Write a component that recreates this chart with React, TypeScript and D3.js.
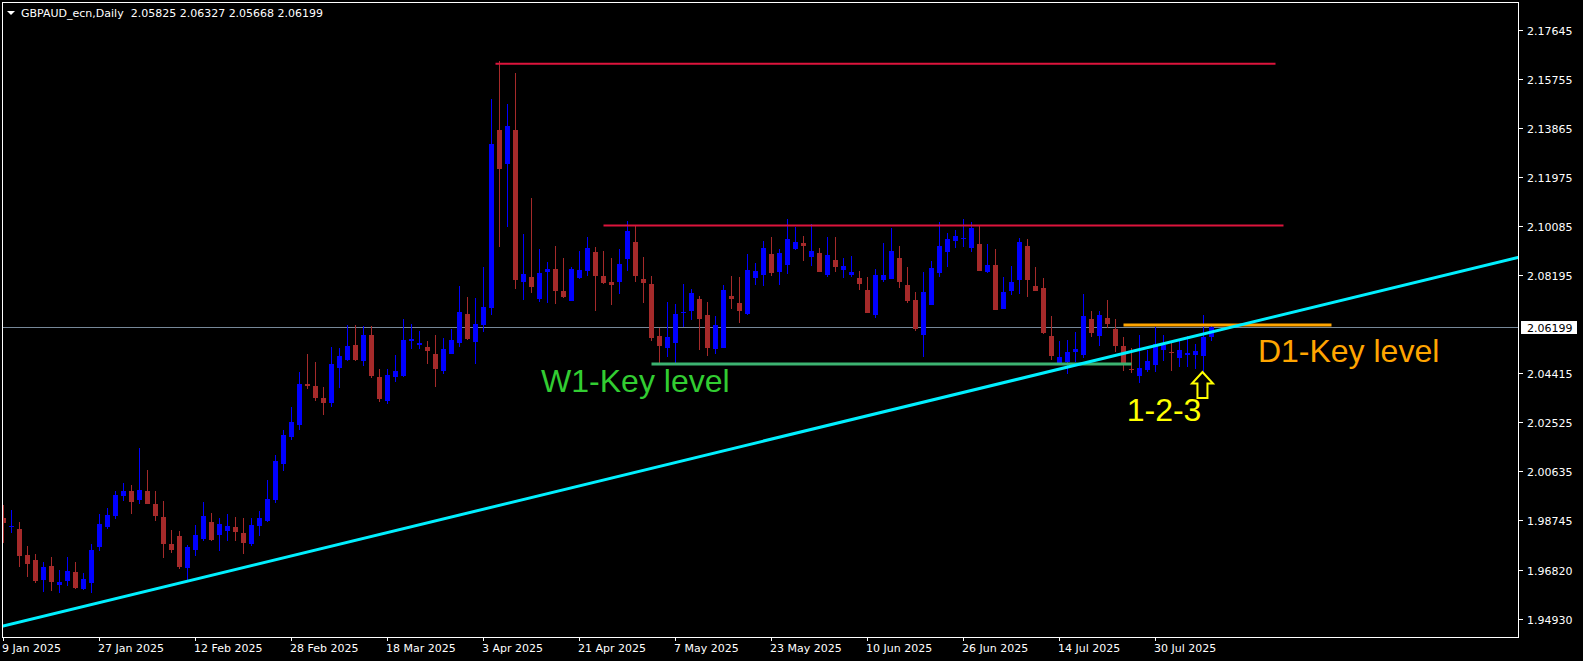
import React from 'react';
import * as d3 from 'd3';

// ---- data (daily GBPAUD bars, from 9 Jan 2025) ----
const symbolName = 'GBPAUD_ecn,Daily';
const firstDate = new Date(2025, 0, 9);

const opens = [
  1.98816, 1.98495, 1.98403, 1.97399, 1.97206, 1.96446, 1.96975, 1.96242, 1.96407, 1.96743,
  1.96088, 1.96319, 1.97708, 1.9848, 1.98916, 1.99688, 1.99869, 1.99534, 1.99869, 1.99368,
  1.98866, 1.97824, 1.98133, 1.96909, 1.97604, 1.98017, 1.98673, 1.98171, 1.98325, 1.9848,
  1.98248, 1.97835, 1.98518, 1.98711, 1.99522, 2.00921, 2.01952, 2.02415, 2.03998, 2.0392,
  2.03457, 2.03264, 2.04615, 2.04924, 2.05503, 2.04885, 2.05889, 2.04268, 2.03341, 2.04268,
  2.04306, 2.05657, 2.05503, 2.05426, 2.05156, 2.045, 2.05156, 2.0558, 2.06699, 2.05619,
  2.06275, 2.06942, 2.13798, 2.12498, 2.13798, 2.07944, 2.08126, 2.07289, 2.08329, 2.08435,
  2.07586, 2.07212, 2.081, 2.08369, 2.0909, 2.08164, 2.07933, 2.07944, 2.08821, 2.09476,
  2.08049, 2.07856, 2.0585, 2.05403, 2.0557, 2.06737, 2.06826, 2.07278, 2.0666, 2.05364,
  2.05403, 2.07393, 2.07123, 2.0671, 2.081, 2.08214, 2.09013, 2.08329, 2.08601, 2.09218,
  2.09438, 2.0891, 2.09052, 2.08214, 2.08782, 2.08408, 2.08214, 2.08087, 2.07624, 2.06672,
  2.08021, 2.08061, 2.08859, 2.07817, 2.07239, 2.05899, 2.07058, 2.08292, 2.09102, 2.09527,
  2.09604, 2.09257, 2.09399, 2.08331, 2.0859, 2.06903, 2.07597, 2.08021, 2.09322, 2.07779,
  2.07701, 2.0585, 2.04819, 2.04858, 2.05244, 2.05128, 2.06506, 2.05861, 2.06544, 2.06119,
  2.05464, 2.04577, 2.04318, 2.0455, 2.04743, 2.05322, 2.05244, 2.05012, 2.05128, 2.05128,
  2.0509, 2.05825,
];
const highs = [
  1.99329, 1.99136, 1.98673, 1.97746, 1.97438, 1.97141, 1.97322, 1.9682, 1.97322, 1.97129,
  1.96705, 1.97824, 1.98981, 1.99213, 1.99869, 2.00178, 2.00101, 2.01529, 2.0068, 1.99869,
  1.99483, 1.98364, 1.98325, 1.97785, 1.98557, 1.99445, 1.9902, 1.98827, 1.98981, 1.98866,
  1.98827, 1.98827, 1.99097, 2.00294, 2.01259, 2.02222, 2.0311, 2.04461, 2.05156, 2.04847,
  2.03882, 2.05426, 2.05387, 2.06275, 2.06275, 2.06236, 2.06236, 2.04577, 2.04577, 2.05117,
  2.06507, 2.06313, 2.06044, 2.05657, 2.05889, 2.05773, 2.06121, 2.07779, 2.07355, 2.07316,
  2.08512, 2.14994, 2.1646, 2.14801, 2.15997, 2.09785, 2.11174, 2.09206, 2.08705, 2.09322,
  2.08859, 2.08512, 2.09129, 2.09669, 2.09283, 2.09129, 2.08859, 2.09206, 2.10287, 2.10093,
  2.08898, 2.08164, 2.06167, 2.07162, 2.07084, 2.07856, 2.07663, 2.07393, 2.07162, 2.06622,
  2.07817, 2.08164, 2.08126, 2.09013, 2.08667, 2.09515, 2.09669, 2.09206, 2.10364, 2.10055,
  2.09708, 2.10171, 2.09245, 2.09669, 2.09669, 2.08859, 2.08936, 2.08358, 2.08126, 2.08435,
  2.09438, 2.10017, 2.09322, 2.08512, 2.07547, 2.0832, 2.08744, 2.10248, 2.09824, 2.0994,
  2.10364, 2.10248, 2.10093, 2.09399, 2.09206, 2.08126, 2.08562, 2.0963, 2.09592, 2.08512,
  2.08087, 2.06622, 2.05657, 2.05696, 2.06005, 2.0747, 2.06815, 2.06815, 2.07239, 2.06506,
  2.05812, 2.05387, 2.05889, 2.0531, 2.06198, 2.05889, 2.05657, 2.05657, 2.0585, 2.05541,
  2.0666, 2.06327,
];
const lows = [
  1.97874, 1.98237, 1.96947, 1.96562, 1.96307, 1.95985, 1.96024, 1.95923, 1.96215, 1.96099,
  1.96061, 1.95923, 1.97565, 1.98403, 1.98789, 1.99483, 1.98993, 1.99379, 1.99356, 1.98728,
  1.97295, 1.97488, 1.96871, 1.96446, 1.97372, 1.97951, 1.97951, 1.97565, 1.97939, 1.97939,
  1.97438, 1.97758, 1.98133, 1.98673, 1.99418, 2.00651, 2.01836, 2.02222, 2.03804, 2.03353,
  2.02801, 2.0311, 2.03843, 2.049, 2.049, 2.04692, 2.04229, 2.03303, 2.03226, 2.04075,
  2.04279, 2.05349, 2.05349, 2.0477, 2.03882, 2.04384, 2.0514, 2.05426, 2.05696, 2.0477,
  2.06015, 2.0666, 2.09295, 2.10066, 2.07674, 2.0725, 2.07519, 2.07173, 2.07135, 2.07096,
  2.07328, 2.072, 2.08061, 2.08176, 2.06826, 2.07866, 2.07058, 2.07481, 2.0837, 2.07944,
  2.07135, 2.05669, 2.04819, 2.05051, 2.04819, 2.06208, 2.06478, 2.05322, 2.0509, 2.05171,
  2.0538, 2.06903, 2.06363, 2.06672, 2.07828, 2.0779, 2.08176, 2.07828, 2.08253, 2.0918,
  2.08756, 2.08562, 2.0832, 2.08137, 2.0832, 2.081, 2.08137, 2.07635, 2.0673, 2.06556,
  2.07944, 2.0804, 2.07713, 2.07135, 2.06054, 2.05051, 2.0704, 2.08137, 2.08524, 2.09257,
  2.09295, 2.09103, 2.0835, 2.08292, 2.0684, 2.0688, 2.07444, 2.07481, 2.07366, 2.0758,
  2.05938, 2.04935, 2.0477, 2.04395, 2.04858, 2.05001, 2.05823, 2.05476, 2.06167, 2.05232,
  2.04518, 2.04411, 2.04048, 2.04473, 2.04473, 2.04896, 2.0451, 2.04665, 2.04665, 2.04588,
  2.04473, 2.05668,
];
const closes = [
  1.98646, 1.98518, 1.97372, 1.97063, 1.96407, 1.96936, 1.96369, 1.96358, 1.96782, 1.96126,
  1.96474, 1.97592, 1.98595, 1.98943, 1.99715, 1.99869, 1.99456, 1.99908, 1.99379, 1.98916,
  1.97835, 1.97604, 1.96936, 1.97708, 1.98171, 1.98904, 1.97978, 1.98595, 1.98518, 1.98287,
  1.97862, 1.98557, 1.98827, 1.99561, 2.01027, 2.02029, 2.02531, 2.03998, 2.0392, 2.03457,
  2.03264, 2.0477, 2.05078, 2.05465, 2.04924, 2.05889, 2.04306, 2.03419, 2.04345, 2.045,
  2.05696, 2.05735, 2.0558, 2.05272, 2.04577, 2.05349, 2.05696, 2.06776, 2.05735, 2.06313,
  2.06969, 2.13258, 2.12293, 2.13952, 2.08021, 2.08241, 2.07751, 2.0828, 2.08435, 2.07597,
  2.07366, 2.08435, 2.08397, 2.09245, 2.08176, 2.07905, 2.07828, 2.08628, 2.09901, 2.08176,
  2.07905, 2.05785, 2.05476, 2.05812, 2.06699, 2.06776, 2.07509, 2.06517, 2.05403, 2.06275,
  2.07624, 2.07289, 2.06826, 2.08397, 2.08358, 2.09245, 2.08292, 2.09052, 2.09592, 2.09476,
  2.09334, 2.09129, 2.08331, 2.08975, 2.08524, 2.08551, 2.08319, 2.07867, 2.06749, 2.08203,
  2.08203, 2.09129, 2.07944, 2.07212, 2.06131, 2.07547, 2.08474, 2.09322, 2.09592, 2.09708,
  2.09631, 2.10017, 2.0837, 2.0859, 2.06865, 2.07547, 2.07933, 2.09476, 2.08021, 2.07597,
  2.05977, 2.0509, 2.05028, 2.05232, 2.05349, 2.06622, 2.05977, 2.0666, 2.06324, 2.05476,
  2.04808, 2.0455, 2.04615, 2.04885, 2.05541, 2.05503, 2.05221, 2.0531, 2.05194, 2.05272,
  2.05823, 2.06199,
];

const priceTicks = [2.17645, 2.15755, 2.13865, 2.11975, 2.10085, 2.08195, 2.04415, 2.02525, 2.00635, 1.98745, 1.9682, 1.9493];
const dateTickStep = 12;

// drawn objects (price, bar range)
const levelPrices = [2.16351, 2.10112, 2.04765, 2.0627];
const levelFromBar = [61.5, 75, 81, 140];
const levelToBar = [159, 160, 141, 166];
const levelColors = ['#DC143C', '#DC143C', '#3CB371', '#FFA500'];
const levelWidths = [2, 2, 3, 3];

const trendBars = [0, 150];
const trendPrices = [1.94661, 2.05927];

const annotationTexts = ['W1-Key level', 'D1-Key level', '1-2-3'];
const annotationBars = [67.2, 156.8, 140.4];
const annotationPrices = [2.03689, 2.04846, 2.0257];
const annotationColors = ['#32CD32', '#FFA500', '#FFFF00'];

const arrowBar = 149.87;
const arrowPrice = 2.04461;

// ---- layout ----
const W = 1583;
const H = 661;
const plotLeft = 2;
const plotTop = 2;
const plotRight = 1519;
const plotBottom = 637;

function weekdayDates(start: Date, n: number): Date[] {
  const out: Date[] = [];
  const d = new Date(start);
  while (out.length < n) {
    const wd = d.getDay();
    if (wd !== 0 && wd !== 6) out.push(new Date(d));
    d.setDate(d.getDate() + 1);
  }
  return out;
}

export default function App() {
  const n = opens.length;
  const dates = weekdayDates(firstDate, n);
  const fmtDate = d3.timeFormat('%-d %b %Y');

  const x = d3.scaleLinear().domain([0, 1]).range([3.5, 11.5]);
  const y = d3.scaleLinear().domain([1.9493, 2.17645]).range([619, 30.3]);

  const bull = '#0000FF';
  const bear = '#A52A2A';

  const candles = opens.map((o, i) => {
    const c = closes[i];
    const up = c >= o;
    const col = up ? bull : bear;
    const cx = x(i);
    const yT = Math.round(y(Math.max(o, c)));
    const yB = Math.round(y(Math.min(o, c)));
    const yH = Math.round(y(highs[i]));
    const yL = Math.round(y(lows[i]));
    return (
      <g key={i}>
        <rect x={cx - 0.5} y={yH} width={1} height={Math.max(1, yL - yH)} fill={col} />
        <rect x={cx - 2.5} y={yT} width={5} height={Math.max(1, yB - yT)} fill={col} />
      </g>
    );
  });

  // trendline extended to plot edges
  const tx1 = x(trendBars[0]);
  const ty1 = y(trendPrices[0]);
  const tx2 = x(trendBars[1]);
  const ty2 = y(trendPrices[1]);
  const slope = (ty2 - ty1) / (tx2 - tx1);
  const tLeftY = ty1 + (plotLeft - tx1) * slope;
  const tRightY = ty1 + (plotRight - tx1) * slope;

  const last = n - 1;
  const lastPrice = closes[last];
  const yLast = y(lastPrice);
  const header = `${symbolName}  ${opens[last].toFixed(5)} ${highs[last].toFixed(5)} ${lows[last].toFixed(5)} ${closes[last].toFixed(5)}`;

  const dateTicks: number[] = [];
  for (let i = 0; i < n; i += dateTickStep) dateTicks.push(i);

  const ax = x(arrowBar);
  const ay = y(arrowPrice);
  const arrowPts = [
    [ax, ay],
    [ax + 10.5, ay + 11.5],
    [ax + 5, ay + 11.5],
    [ax + 5, ay + 26],
    [ax - 5, ay + 26],
    [ax - 5, ay + 11.5],
    [ax - 10.5, ay + 11.5],
  ]
    .map((p) => p.join(','))
    .join(' ');

  const axisFont = "'DejaVu Sans', sans-serif";
  const annFont = "'Liberation Sans', Arial, sans-serif";

  return (
    <svg
      width={W}
      height={H}
      style={{ position: 'fixed', left: 0, top: 0, background: '#000', display: 'block' }}
    >
      <defs>
        <clipPath id="plot">
          <rect x={plotLeft} y={plotTop} width={plotRight - plotLeft} height={plotBottom - plotTop} />
        </clipPath>
      </defs>
      <rect x={0} y={0} width={W} height={H} fill="#000" />

      <g clipPath="url(#plot)">
        {/* current price line */}
        <line x1={plotLeft} x2={plotRight} y1={Math.round(yLast) + 0.5} y2={Math.round(yLast) + 0.5} stroke="#778899" strokeWidth={1} />
        <g shapeRendering="crispEdges">{candles}</g>

        {levelPrices.map((p, k) => (
          <line
            key={k}
            x1={x(levelFromBar[k])}
            x2={x(levelToBar[k])}
            y1={y(p)}
            y2={y(p)}
            stroke={levelColors[k]}
            strokeWidth={levelWidths[k]}
          />
        ))}

        <line x1={plotLeft} y1={tLeftY} x2={plotRight} y2={tRightY} stroke="#00F0FF" strokeWidth={3} />

        {annotationTexts.map((t, k) => (
          <text
            key={k}
            x={x(annotationBars[k])}
            y={y(annotationPrices[k])}
            fill={annotationColors[k]}
            fontFamily={annFont}
            fontSize={32}
          >
            {t}
          </text>
        ))}

        <polygon points={arrowPts} fill="none" stroke="#FFFF00" strokeWidth={2} />
      </g>

      {/* frame */}
      <rect
        x={plotLeft + 0.5}
        y={plotTop + 0.5}
        width={plotRight - plotLeft - 1}
        height={plotBottom - plotTop}
        fill="none"
        stroke="#FFFFFF"
        strokeWidth={1}
        shapeRendering="crispEdges"
      />

      {/* header */}
      <polygon points="7,11 15,11 11,15" fill="#FFFFFF" />
      <text x={21} y={17} fill="#FFFFFF" fontFamily={axisFont} fontSize={11} style={{ whiteSpace: 'pre' }}>
        {header}
      </text>

      {/* price axis */}
      {priceTicks.map((p, k) => {
        const yy = Math.round(y(p)) + 0.5;
        return (
          <g key={k}>
            <line x1={plotRight} x2={plotRight + 4} y1={yy} y2={yy} stroke="#FFFFFF" shapeRendering="crispEdges" />
            <text x={plotRight + 8} y={yy + 4} fill="#FFFFFF" fontFamily={axisFont} fontSize={11}>
              {p.toFixed(5)}
            </text>
          </g>
        );
      })}
      <rect x={plotRight + 2} y={Math.round(yLast) - 6} width={56} height={13} fill="#FFFFFF" />
      <text x={plotRight + 8} y={Math.round(yLast) + 4.5} fill="#000000" fontFamily={axisFont} fontSize={11}>
        {lastPrice.toFixed(5)}
      </text>

      {/* date axis */}
      {dateTicks.map((i) => {
        const xx = Math.round(x(i) - 0.5) + 0.5;
        return (
          <g key={i}>
            <line x1={xx} x2={xx} y1={plotBottom} y2={plotBottom + 4} stroke="#FFFFFF" shapeRendering="crispEdges" />
            <text x={xx - 1.5} y={652} fill="#FFFFFF" fontFamily={axisFont} fontSize={11}>
              {fmtDate(dates[i])}
            </text>
          </g>
        );
      })}
    </svg>
  );
}
